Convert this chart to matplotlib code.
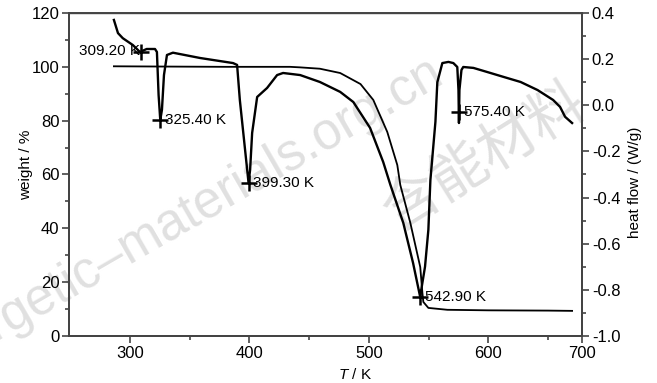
import matplotlib
matplotlib.use("Agg")
import matplotlib.pyplot as plt
import numpy as np
from matplotlib.ticker import MultipleLocator, FixedLocator

plt.rcParams['font.family'] = ['Liberation Sans', 'DejaVu Sans']
plt.rcParams['mathtext.fontset'] = 'custom'
plt.rcParams['mathtext.it'] = 'Liberation Sans:italic'
plt.rcParams['mathtext.rm'] = 'Liberation Sans'

# TG curve (weight / %)
tg_T = [286.6, 330, 380, 420, 434, 442.5, 459, 476, 493, 503.7, 515.4, 523.8,
        526.3, 534.7, 543.0, 544.8, 545.6, 549.8, 565.7, 600, 650, 685.3]
tg_w = [100.2, 100.1, 100.0, 100.0, 100.0, 99.8, 99.3, 97.7, 93.6, 87.7, 75.8,
        63.5, 56.1, 42.0, 25.6, 16.0, 12.6, 10.4, 9.7, 9.5, 9.4, 9.3]

# DSC curve (heat flow / (W/g))
dsc_T = [286.6, 290, 294, 302.5, 308.4, 314, 321, 322.6, 324, 325.4, 326.8,
         328.5, 331, 336, 358.7, 386.3, 389.7, 392, 396.4, 399.3, 400.6, 402.3,
         406.5, 414.8, 423.2, 428.2, 442.5, 459, 476, 487, 501, 512, 518, 528.8,
         537, 542.9, 547, 549.8, 551.5, 555.7, 557.3, 561.5, 566.6, 570.7, 574,
         575, 575.4, 575.8, 577.5, 579, 587.5, 599.2, 612.7, 627, 641.2, 657.4,
         667.6, 675, 685.3]
dsc_hf = [0.370, 0.313, 0.291, 0.261, 0.231, 0.244, 0.244, 0.231, 0.045, -0.064,
          -0.020, 0.131, 0.218, 0.228, 0.205, 0.183, 0.175, 0.023, -0.194, -0.337,
          -0.280, -0.120, 0.036, 0.075, 0.131, 0.140, 0.131, 0.101, 0.058, 0.014,
          -0.098, -0.246, -0.345, -0.510, -0.684, -0.830, -0.700, -0.540, -0.324,
          -0.072, 0.100, 0.183, 0.188, 0.183, 0.166, 0.066, -0.077, 0.066, 0.153,
          0.166, 0.162, 0.144, 0.123, 0.101, 0.066, 0.023, -0.007, -0.050, -0.077]

# peak markers
peak_T = [309.2, 325.4, 399.3, 542.9, 575.4]
peak_hf = [0.231, -0.064, -0.337, -0.830, -0.030]
peak_labels = ["309.20 K", "325.40 K", "399.30 K", "542.90 K", "575.40 K"]

# x axis of the source is squeezed above 650 K
k = 34 / 59.7
def fwd(x):
    x = np.asarray(x, dtype=float)
    return np.where(x <= 650, x, 650 + (x - 650) * k)
def inv(y):
    y = np.asarray(y, dtype=float)
    return np.where(y <= 650, y, 650 + (y - 650) / k)

fig = plt.figure(figsize=(6.57, 3.83), dpi=100)
ax = fig.add_axes([0.105, 0.123, 0.781, 0.843])
ax2 = ax.twinx()
ax.patch.set_visible(False)

# watermark (behind the axes)
wm = '#e0e0e0'
fig.text(-0.118, 0.0, "energetic\u2013materials.org.cn", rotation=30, fontsize=37,
         color=wm, ha='left', va='baseline', rotation_mode='anchor', zorder=-1)
fig.text(0.738, 0.59, "含能材料", rotation=32, fontsize=41, color=wm,
         family=['Noto Sans CJK SC'], fontweight='light', ha='center', va='center',
         rotation_mode='anchor', zorder=-1)

ax.set_xscale('function', functions=(fwd, inv))
ax.plot(tg_T, tg_w, color='black', linewidth=1.3)
ax2.plot(dsc_T, dsc_hf, color='black', linewidth=1.7)
ax2.plot(peak_T, peak_hf, linestyle='none', marker='+', markersize=11,
         markeredgewidth=1.8, color='black')
for t, h, lab in zip(peak_T, peak_hf, peak_labels):
    if lab == "309.20 K":
        ax2.text(t - 1, h + 0.005, lab, fontsize=11, ha='right', va='center')
    else:
        ax2.text(t + 4, h, lab, fontsize=11, ha='left', va='center')

ax.set_xlim(249, 700)
ax.set_ylim(0, 120)
ax2.set_ylim(-1.0, 0.4)
ax.xaxis.set_major_locator(FixedLocator([300, 400, 500, 600, 700]))
ax.xaxis.set_minor_locator(FixedLocator([350, 450, 550, 650]))
ax.yaxis.set_major_locator(MultipleLocator(20))
ax.yaxis.set_minor_locator(MultipleLocator(10))
ax2.yaxis.set_major_locator(MultipleLocator(0.2))
ax2.yaxis.set_minor_locator(MultipleLocator(0.1))
ax2.yaxis.set_major_formatter(matplotlib.ticker.FuncFormatter(lambda v, p: "%.1f" % v))

spine_col = '#444444'
for a in (ax, ax2):
    for s in a.spines.values():
        s.set_color(spine_col)
        s.set_linewidth(1.4)
    a.tick_params(which='both', direction='out', color=spine_col, width=1.2,
                  labelsize=12, pad=2)
    a.tick_params(which='major', length=5)
    a.tick_params(which='minor', length=3)
ax.spines['top'].set_linewidth(1.0)

ax.set_xlabel(r"$T$ / K", fontsize=11)
ax.xaxis.set_label_coords(0.557, -0.095)
ax.set_ylabel("weight / %", fontsize=11)
ax.yaxis.set_label_coords(-0.07, 0.53)
ax2.set_ylabel("heat flow / (W/g)", fontsize=11, rotation=90)
ax2.yaxis.set_label_coords(1.09, 0.477)

plt.savefig("out.png", dpi=100)
